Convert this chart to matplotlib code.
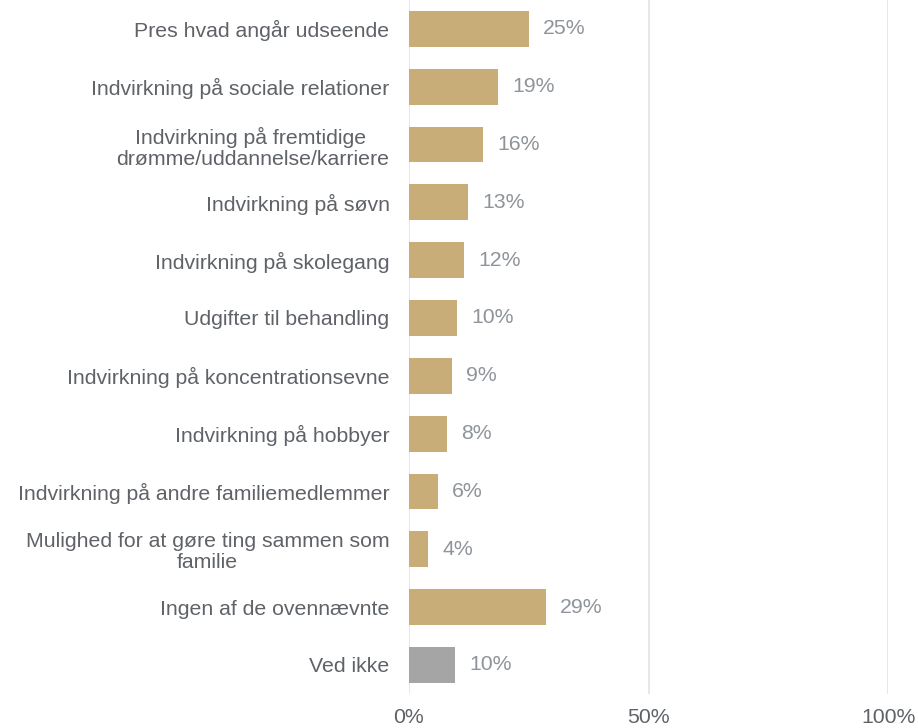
import numpy as np
import matplotlib.pyplot as plt

plt.rcParams['font.family'] = ['Liberation Sans', 'DejaVu Sans']

# data
categories = [
    'Pres hvad angår udseende',
    'Indvirkning på sociale relationer',
    'Indvirkning på fremtidige \ndrømme/uddannelse/karriere',
    'Indvirkning på søvn',
    'Indvirkning på skolegang',
    'Udgifter til behandling',
    'Indvirkning på koncentrationsevne',
    'Indvirkning på hobbyer',
    'Indvirkning på andre familiemedlemmer',
    'Mulighed for at gøre ting sammen som\nfamilie',
    'Ingen af de ovennævnte',
    'Ved ikke',
]
values = [25, 18.5, 15.5, 12.4, 11.4, 10, 9, 7.9, 6, 4, 28.5, 9.6]
value_labels = ['25%', '19%', '16%', '13%', '12%', '10%', '9%', '8%', '6%', '4%', '29%', '10%']
x_ticks = [0, 50, 100]
x_ticklabels = ['0%', '50%', '100%']

GOLD = '#C9AD78'
GREY = '#A5A5A5'
TEXT = '#5F6368'
LABEL = '#8E949A'
FS = 15.3

fig = plt.figure(figsize=(9.18, 7.28), dpi=100)
ax = fig.add_axes([0.4455, 0.047, 0.522, 0.953])

y = np.arange(len(categories))
colors = [GOLD] * (len(categories) - 1) + [GREY]
ax.barh(y, values, height=0.62, color=colors, zorder=3)

for yi, v, lab in zip(y, values, value_labels):
    ax.text(v + 3, yi, lab, va='center', ha='left', fontsize=FS, color=LABEL)

ax.set_yticks(y)
ax.set_yticklabels(categories, fontsize=FS, color=TEXT, ha='right',
                   multialignment='center', linespacing=1.15)
ax.set_ylim(len(categories) - 0.5, -0.5)
ax.set_xlim(0, 100)
ax.set_xticks(x_ticks)
ax.set_xticklabels(x_ticklabels, fontsize=FS, color=TEXT)
ax.tick_params(axis='both', length=0)
ax.tick_params(axis='y', pad=14)
ax.tick_params(axis='x', pad=10)
ax.grid(axis='x', color='#E3E3E3', linewidth=1.2, zorder=0)
for s in ax.spines.values():
    s.set_visible(False)

fig.savefig('out.png', dpi=100)
